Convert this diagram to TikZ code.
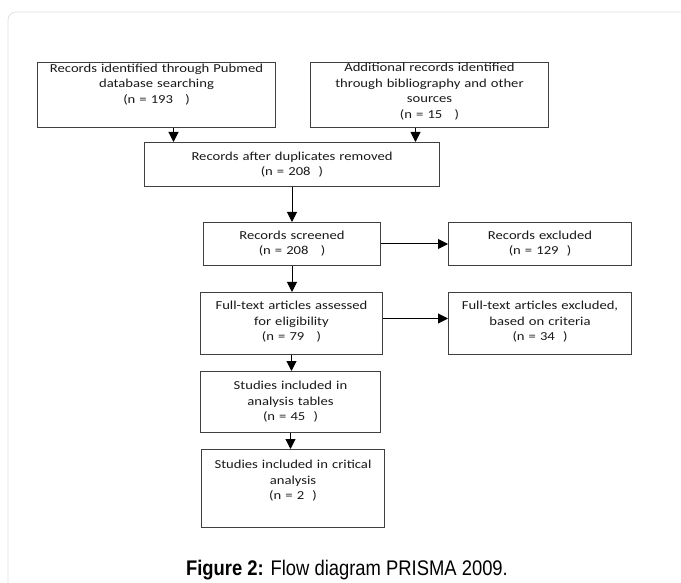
\documentclass[tikz,border=0pt]{standalone}
\usepackage{fontspec}
\usetikzlibrary{arrows.meta}
\newfontfamily\boxfont[FakeStretch=1.2]{Carlito}
\newfontfamily\capfont{Liberation Sans}
\tikzset{
  box/.style={draw=black!75, line width=1pt, anchor=north west, align=center,
    inner xsep=0pt, text height=9pt, text=black!90,
    font=\boxfont\fontsize{12.2pt}{15.5pt}\selectfont},
  arr/.style={-{Triangle[length=10pt,width=10pt]}, line width=1pt, black}
}
\begin{document}
\begin{tikzpicture}[x=1pt, y=-1pt]
  \useasboundingbox (0,0) rectangle (681,583);
  \draw[black!12, line width=0.8pt, rounded corners=8pt] (8,12) rectangle (720,640);
  % identification
  \node[box, text width=238pt, inner ysep=1pt, text depth=54pt] (ids) at (37,62)
    {Records identified through Pubmed\\ database searching\\ (n = 193~~~)};
  \node[box, text width=238pt, inner ysep=0.5pt, text depth=55pt] (add) at (310,62)
    {Additional records identified\\ through bibliography and other\\ sources\\ (n = 15~~~)};
  % screening
  \node[box, text width=295pt, inner ysep=9pt, text depth=17pt] (dup) at (144,142)
    {Records after duplicates removed\\ (n = 208~~)};
  \node[box, text width=177pt, inner ysep=8pt, text depth=18pt] (scr) at (203,222)
    {Records screened\\ (n = 208~~~)};
  \node[box, text width=183pt, inner ysep=8pt, text depth=18pt] (exc) at (448,222)
    {Records excluded\\ (n = 129~~)};
  % eligibility
  \node[box, text width=182pt, inner ysep=8pt, text depth=37pt] (full) at (200,292)
    {Full-text articles assessed\\ for eligibility\\ (n = 79~~~)};
  \node[box, text width=183pt, inner ysep=8pt, text depth=37pt] (fexc) at (448,292)
    {Full-text articles excluded,\\ based on criteria\\ (n = 34~~)};
  % included
  \node[box, text width=180pt, inner ysep=9pt, text depth=34pt] (tab) at (200,371)
    {Studies included in\\ analysis tables\\ (n = 45~~)};
  \node[box, text width=183pt, inner ysep=10pt, text depth=49pt] (crit) at (201,449)
    {Studies included in critical\\ analysis\\ (n = 2~~)};
  \node[anchor=base, font=\capfont\fontsize{18.4pt}{20pt}\selectfont] (cap) at (347,575)
    {\scalebox{1}[1.15]{\textbf{Figure 2:} Flow diagram PRISMA 2009.}};
  % connectors
  \coordinate (a1) at ([xshift=17pt]ids.south);
  \coordinate (a2) at ([xshift=-14pt]add.south);
  \coordinate (a3) at ([yshift=5pt]full.east);
  \draw[arr] (a1) -- (a1 |- dup.north);
  \draw[arr] (a2) -- (a2 |- dup.north);
  \draw[arr] (dup.south) -- (dup.south |- scr.north);
  \draw[arr] (scr.east) -- (exc.west);
  \draw[arr] (scr.south) -- (scr.south |- full.north);
  \draw[arr] (a3) -- (a3 -| fexc.west);
  \draw[arr] (full.south) -- (full.south |- tab.north);
  \draw[arr] (tab.south) -- (tab.south |- crit.north);
\end{tikzpicture}
\end{document}
